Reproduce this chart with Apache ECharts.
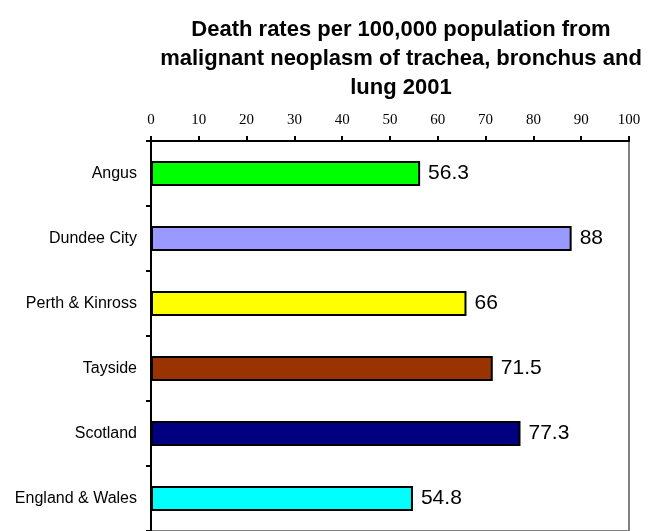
<!DOCTYPE html>
<html>
<head>
<meta charset="utf-8">
<script src="https://cdn.jsdelivr.net/npm/echarts@6/dist/echarts.min.js"></script>
<style>html,body{margin:0;padding:0;background:#fff}#c{width:653px;height:531px}</style>
</head>
<body>
<div id="c"></div>
<script>
const categories = ["Angus", "Dundee City", "Perth & Kinross", "Tayside", "Scotland", "England & Wales"];
const values = [56.3, 88, 66, 71.5, 77.3, 54.8];
const barColors = ["#00FF00", "#9999FF", "#FFFF00", "#993300", "#000080", "#00FFFF"];
const titleText = "Death rates per 100,000 population from\nmalignant neoplasm of trachea, bronchus and\nlung 2001";

const chart = echarts.init(document.getElementById('c'));
chart.setOption({
  animation: false,
  backgroundColor: '#fff',
  title: {
    text: titleText,
    left: 396, top: 10, textAlign: 'center',
    textStyle: {fontFamily: 'Liberation Sans, Arial', fontSize: 22, fontWeight: 'bold', color: '#000', lineHeight: 29}
  },
  grid: {left: 151, right: 24, top: 141, height: 396, show: true, borderColor: '#808080', borderWidth: 2, containLabel: false},
  xAxis: {
    type: 'value', position: 'top', min: 0, max: 100, interval: 10,
    axisLine: {show: true, lineStyle: {color: '#000', width: 2}},
    axisTick: {show: true, length: 5, lineStyle: {color: '#000', width: 2}},
    splitLine: {show: false},
    axisLabel: {fontFamily: 'Liberation Serif, Times New Roman', fontSize: 15, color: '#000', margin: 13}
  },
  yAxis: {
    type: 'category', inverse: true, data: categories,
    axisLine: {show: true, lineStyle: {color: '#000', width: 2}},
    axisTick: {show: true, length: 5, lineStyle: {color: '#000', width: 2}},
    axisLabel: {fontFamily: 'Liberation Sans, Arial', fontSize: 16, color: '#000', margin: 14}
  },
  series: [{
    type: 'bar',
    data: values.map((v, i) => ({value: v, itemStyle: {color: barColors[i]}})),
    barWidth: 25,
    itemStyle: {borderColor: '#000', borderWidth: 2},
    label: {show: true, position: 'right', distance: 8, fontFamily: 'Liberation Sans, Arial', fontSize: 21, color: '#000'}
  }]
});
</script>
</body>
</html>
